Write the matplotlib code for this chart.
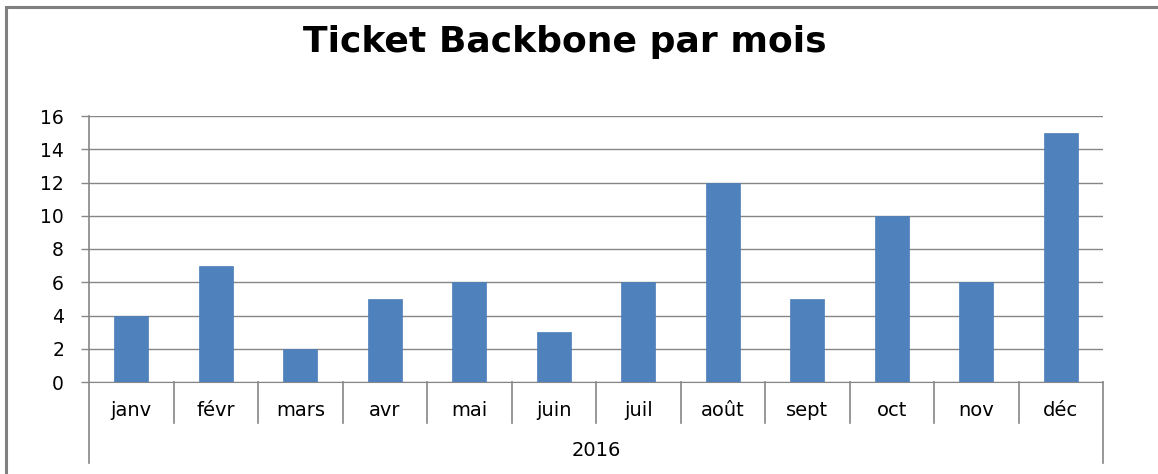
import matplotlib
matplotlib.use("Agg")
import matplotlib.pyplot as plt
from matplotlib.patches import Rectangle
import matplotlib.transforms as mtransforms

months = ["janv", "févr", "mars", "avr", "mai", "juin", "juil", "août", "sept", "oct", "nov", "déc"]
tickets = [4, 7, 2, 5, 6, 3, 6, 12, 5, 10, 6, 15]
year_label = "2016"
title = "Ticket Backbone par mois"
yticks = list(range(0, 17, 2))

W, H = 1158, 474
fig = plt.figure(figsize=(W / 100, H / 100), dpi=100)
plt.rcParams['font.family'] = ['DejaVu Sans']

# figure border (left and top visible)
fig.patches.append(Rectangle((6 / W, -0.05), 1.2, (H - 7) / H + 0.05, transform=fig.transFigure,
                             fill=False, edgecolor="#808080", linewidth=2.2))

x0, x1 = 89, 1103
ytop, ybot = 116, 382
ax = fig.add_axes([x0 / W, 1 - ybot / H, (x1 - x0) / W, (ybot - ytop) / H])

grey = "#868686"
ax.bar(range(len(months)), tickets, width=0.4, color="#4F81BD", edgecolor="#4A7EBB", linewidth=0.5, zorder=3)
ax.set_xlim(-0.5, len(months) - 0.5)
ax.set_ylim(0, 16)
ax.set_yticks(yticks)
ax.yaxis.grid(True, color=grey, linewidth=1.0, zorder=0)
ax.set_axisbelow(True)
for s in ["top", "right", "left"]:
    ax.spines[s].set_visible(False)
ax.spines["bottom"].set_color(grey)
ax.tick_params(axis="y", length=6, width=1, color=grey, labelsize=13.5, pad=12, labelcolor="black")
ax.tick_params(axis="x", length=0, labelbottom=False)

trans = mtransforms.blended_transform_factory(ax.transData, ax.transAxes)
h_ax = ybot - ytop
sep = -41 / h_ax
full = -81 / h_ax
# left axis line, extended below
ax.plot([-0.5, -0.5], [1, full], transform=trans, color=grey, lw=1.2, clip_on=False, zorder=4)
ax.plot([len(months) - 0.5] * 2, [0, full], transform=trans, color=grey, lw=1.2, clip_on=False)
for i in range(1, len(months)):
    ax.plot([i - 0.5, i - 0.5], [0, sep], transform=trans, color=grey, lw=1.2, clip_on=False)
for i, m in enumerate(months):
    ax.text(i, -28 / h_ax, m, transform=trans, ha="center", va="center", fontsize=14)
ax.text((len(months) - 1) / 2, -68 / h_ax, year_label, transform=trans, ha="center", va="center", fontsize=14)

fig.text(565 / W, 1 - 42 / H, title, ha="center", va="center", fontsize=26, fontweight="bold")

fig.savefig("out.png", dpi=100)
